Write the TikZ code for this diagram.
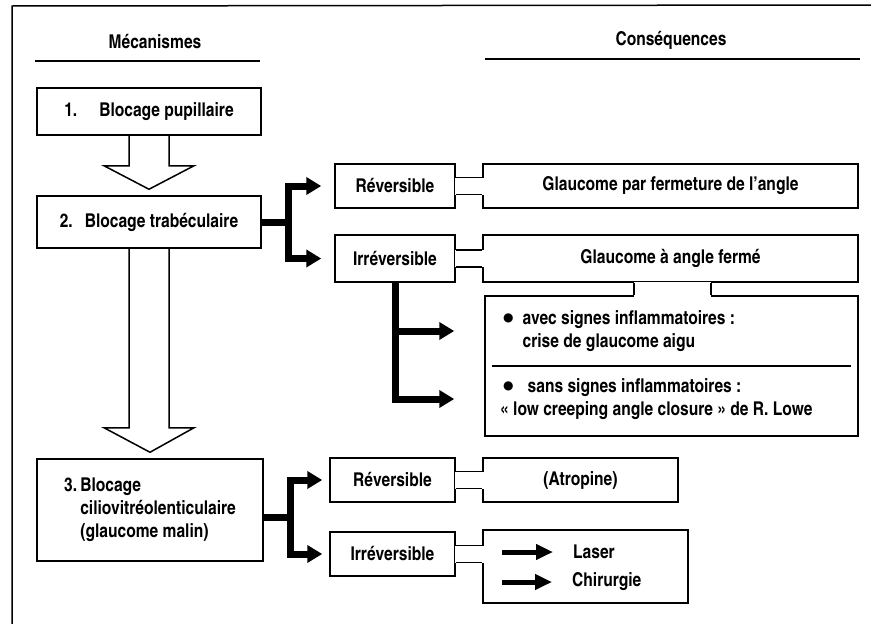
\documentclass[tikz,border=0pt]{standalone}
\usepackage{fontspec}
\setmainfont{texgyreheroscn-bold.otf}
\newfontfamily\symfont{DejaVu Sans}
\newcommand{\blob}{\raisebox{2.5pt}{\symfont\fontsize{12}{12}\selectfont ●}}
\usetikzlibrary{calc,arrows.meta}
\begin{document}
\begin{tikzpicture}[x=1pt,y=1pt, line join=miter, font=\fontsize{19}{23}\selectfont,
  edge/.style={line width=1.5pt},
  box/.style={draw, line width=1.5pt, inner sep=0pt},
  txt/.style={inner sep=0pt},
  hollow/.style={draw, line width=1.5pt},
  fat/.style={line width=7pt},
  fatarrow/.style={line width=7pt, -{Triangle[length=15pt,width=17pt]}},
  slimarrow/.style={line width=5pt, -{Triangle[length=17pt,width=15pt]}}]
\useasboundingbox (0,0) rectangle (871,-624);
% frame and headings
\draw[edge] (12,-624) -- (12,-6) -- (871,-5);
\node (h1) at (155,-42) {Mécanismes};
\draw[edge] (35,-61) -- (260,-61);
\node (h2) at (671,-40) {Conséquences};
\draw[edge] (485,-59) -- (860,-59);
% mechanisms
\node[box, minimum width=224, minimum height=47] (b1) at (149,-111.5) {1.\hspace{22pt}Blocage pupillaire};
\node[box, minimum width=224, minimum height=52] (b2) at (149,-222) {2.\hspace{12pt}Blocage trabéculaire};
\node[box, minimum width=226, minimum height=102] (b3) at (150,-510)
  {\begin{tabular}{@{}l@{}l@{}}3.\,&Blocage\\ &ciliovitréolenticulaire\\ &(glaucome malin)\end{tabular}};
\draw[hollow] ($(b1.south)+(-20,0)$) -- ++(0,-30) -- ++(-25,0) -- ($(b2.north)+(0,6)$)
  -- ($(b1.south)+(45,-30)$) -- ++(-25,0) -- ($(b1.south)+(20,0)$);
\draw[hollow] ($(b2.south)+(-20,0)$) -- ++(0,-179) -- ++(-25,0) -- ($(b3.north)+(0,6)$)
  -- ($(b2.south)+(45,-179)$) -- ++(-25,0) -- ($(b2.south)+(20,0)$);
% consequences
\node[box, minimum width=120, minimum height=44] (r1) at (395,-186) {Réversible};
\node[box, minimum width=375, minimum height=44] (g1) at (670.5,-186) {Glaucome par fermeture de l'angle};
\node[box, minimum width=120, minimum height=47] (i1) at (395,-258.5) {Irréversible};
\node[box, minimum width=375, minimum height=47] (g2) at (670.5,-258.5) {Glaucome à angle fermé};
\node[box, minimum width=373, minimum height=140] (bul) at (671.5,-366) {};
\draw[edge] ($(bul.west)+(8,0)$) -- ($(bul.east)+(-8,0)$);
\node[txt, anchor=west] (av) at (503,-331)
  {\begin{tabular}{@{}l@{\hspace{9pt}}l@{}}\blob&avec signes inflammatoires :\\ &crise de glaucome aigu\end{tabular}};
\node[txt, anchor=west, align=left] (sa) at (500,-399)
  {\hspace{3pt}\blob\hspace{14pt}sans signes inflammatoires :\\« low creeping angle closure » de R. Lowe};
\node[box, minimum width=125, minimum height=44] (r2) at (392.5,-480) {Réversible};
\node[box, minimum width=195, minimum height=44] (at) at (580.5,-480) {(Atropine)};
\node[box, minimum width=125, minimum height=44] (i2) at (392.5,-554) {Irréversible};
\node[box, minimum width=205, minimum height=73] (lc) at (585.5,-566.5) {};
\node[txt, anchor=west] (la) at (573,-552) {Laser};
\node[txt, anchor=west] (ch) at (572,-582) {Chirurgie};
% necks between boxes
\foreach \p/\q in {r1/g1,i1/g2,r2/at,i2/lc}{
  \fill[white] ($(\p.east)+(-1,8.5)$) rectangle ($(\p.east)+(29,-8.5)$);
  \draw[edge] ($(\p.east)+(0,8.5)$) -- ($(\q.west |- \p.east)+(0,8.5)$)
    ($(\p.east)+(0,-8.5)$) -- ($(\q.west |- \p.east)+(0,-8.5)$);
}
\fill[white] ($(g2.south)+(-36.5,1)$) rectangle ($(g2.south)+(40.5,-15)$);
\draw[edge] ($(g2.south)+(-36.5,0)$) -- ($(bul.north)+(-37.5,0)$)
  ($(g2.south)+(40.5,0)$) -- ($(bul.north)+(39.5,0)$);
% thick branching arrows
\coordinate (j2) at (288,-222);
\draw[fat] (b2.east) -- (j2);
\draw[fatarrow, shorten >=13pt] (j2) |- (r1.west);
\draw[fatarrow, shorten >=13pt] (j2) |- (i1.west);
\draw[fatarrow, shorten >=30pt] (i1.south) |- (av.west -| bul.west);
\draw[fatarrow, shorten >=30pt] (i1.south) |- (sa.west -| bul.west);
\coordinate (j3) at (290,-517);
\draw[fat] (b3.east |- j3) -- (j3);
\draw[fatarrow, shorten >=7pt] (j3) |- (r2.west);
\draw[fatarrow, shorten >=7pt] (j3) |- (i2.west);
\coordinate (la0) at (502,-552);
\coordinate (ch0) at (502,-582);
\draw[slimarrow, shorten >=20pt] (la0) -- (la.west);
\draw[slimarrow, shorten >=20pt] (ch0) -- (ch.west);
\end{tikzpicture}
\end{document}
